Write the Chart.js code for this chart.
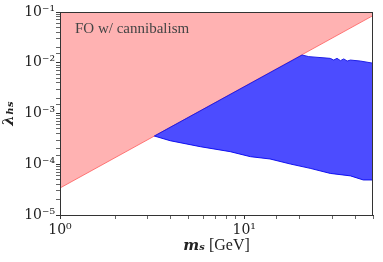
<!DOCTYPE html>
<html>
<head>
<meta charset="utf-8">
<script src="https://cdn.jsdelivr.net/npm/chart.js@4"></script>
<style>
  html, body { margin: 0; padding: 0; background: #fff; }
  #wrap { width: 383px; height: 262px; }
</style>
</head>
<body>
<div id="wrap"><canvas id="myChart" width="383" height="262"></canvas></div>
<script>
// FO boundary line (lambda ~ m^2)
var foMass = [1, 50];
var foLambda = [3.4e-5, 8.5e-2];

// blue allowed region, upper and lower edges
var topMass = [3.25, 20.6, 22.4, 29.3, 30.6, 31.9, 33.3, 34.7, 36.2, 37.7, 42.7, 50];
var topLambda = [3.6e-4, 1.42e-2, 1.32e-2, 1.22e-2, 1.13e-2, 1.22e-2, 1.10e-2, 1.19e-2, 1.08e-2, 1.13e-2, 1.08e-2, 9.8e-3];
var botMass = [3.25, 3.96, 5.77, 8.39, 10.8, 13.8, 17.8, 22.8, 29.3, 37.7, 44.3, 50];
var botLambda = [3.6e-4, 2.91e-4, 2.22e-4, 1.77e-4, 1.41e-4, 1.27e-4, 1.01e-4, 8.3e-5, 6.6e-5, 5.9e-5, 4.9e-5, 4.9e-5];

var xTicks = [1, 10];
var yTicks = [1e-5, 1e-4, 1e-3, 1e-2, 1e-1];
var label = 'FO w/ cannibalism';
var xName = 'm\u209B';
var xUnit = ' [GeV]';

function pts(xs, ys) {
  return xs.map(function (x, i) { return { x: x, y: ys[i] }; });
}

var sup = { '-': '\u207B', '0': '\u2070', '1': '\u00B9', '2': '\u00B2', '3': '\u00B3', '4': '\u2074', '5': '\u2075' };
function powLabel(v) {
  var e = Math.round(Math.log10(v));
  return '10' + String(e).split('').map(function (c) { return sup[c]; }).join('');
}
function isMajor(v, list) {
  return list.some(function (t) { return Math.abs(Math.log10(v) - Math.log10(t)) < 1e-6; });
}

var frame = {
  id: 'frame',
  afterDraw: function (chart) {
    var a = chart.chartArea, c = chart.ctx;
    c.save();
    c.strokeStyle = '#333';
    c.lineWidth = 1;
    c.strokeRect(a.left + 0.5, a.top + 0.5, a.right - a.left - 1, a.bottom - a.top);
    c.fillStyle = '#444';
    c.font = '15px "Liberation Serif"';
    c.textBaseline = 'alphabetic';
    c.fillText(label, a.left + 15, a.top + 21);
    // x axis title: bold italic symbol + upright unit
    c.fillStyle = '#222';
    var f1 = 'italic bold 15px "DejaVu Serif"', f2 = '16px "Liberation Serif"';
    c.font = f1; var w1 = c.measureText(xName).width;
    c.font = f2; var w2 = c.measureText(xUnit).width;
    var x0 = (a.left + a.right) / 2 - (w1 + w2) / 2;
    c.font = f1; c.fillText(xName, x0, 250);
    c.font = f2; c.fillText(xUnit, x0 + w1, 250);
    c.restore();
  }
};

var ctx = document.getElementById('myChart');
var myChart = new Chart(ctx, {
  type: 'scatter',
  data: {
    datasets: [
      {
        data: pts(topMass, topLambda),
        showLine: true,
        borderColor: 'rgba(30, 30, 230, 1)',
        borderWidth: 1,
        backgroundColor: 'rgba(0, 0, 255, 0.7)',
        fill: '+1',
        pointRadius: 0
      },
      {
        data: pts(botMass, botLambda),
        showLine: true,
        borderColor: 'rgba(30, 30, 230, 1)',
        borderWidth: 1,
        pointRadius: 0,
        fill: false
      },
      {
        data: pts(foMass, foLambda),
        showLine: true,
        borderColor: 'rgba(255, 90, 90, 0.8)',
        borderWidth: 1,
        backgroundColor: 'rgba(255, 0, 0, 0.3)',
        fill: 'end',
        pointRadius: 0
      }
    ]
  },
  options: {
    responsive: false,
    animation: false,
    layout: { padding: { left: 0, top: 12, right: 10, bottom: 0 } },
    plugins: { legend: { display: false }, tooltip: { enabled: false } },
    scales: {
      x: {
        type: 'logarithmic',
        min: 1,
        max: 50,
        afterFit: function (s) { s.height = 47; },
        grid: {
          drawOnChartArea: false,
          tickLength: 4,
          tickColor: function (c) { return isMajor(c.tick.value, xTicks) ? '#333' : '#666'; }
        },
        border: { color: '#333' },
        ticks: {
          autoSkip: false,
          maxRotation: 0,
          padding: 3,
          color: '#222',
          font: { family: 'DejaVu Serif', size: 14 },
          callback: function (v) { return isMajor(v, xTicks) ? powLabel(v) : ''; }
        }
      },
      y: {
        type: 'logarithmic',
        min: 1e-5,
        max: 1e-1,
        afterFit: function (s) { s.width = 60; },
        grid: {
          drawOnChartArea: false,
          tickLength: 4,
          tickColor: function (c) { return isMajor(c.tick.value, yTicks) ? '#333' : '#666'; }
        },
        border: { color: '#333' },
        ticks: {
          autoSkip: false,
          padding: 1,
          color: '#222',
          font: { family: 'DejaVu Serif', size: 14 },
          callback: function (v) { return isMajor(v, yTicks) ? powLabel(v) : ''; }
        },
        title: {
          display: true,
          text: '\u03BB\u2095\u209B',
          color: '#222',
          padding: { top: 0, bottom: 0 },
          font: { family: 'DejaVu Serif', size: 15, style: 'italic', weight: 'bold' }
        }
      }
    }
  },
  plugins: [frame]
});
</script>
</body>
</html>
